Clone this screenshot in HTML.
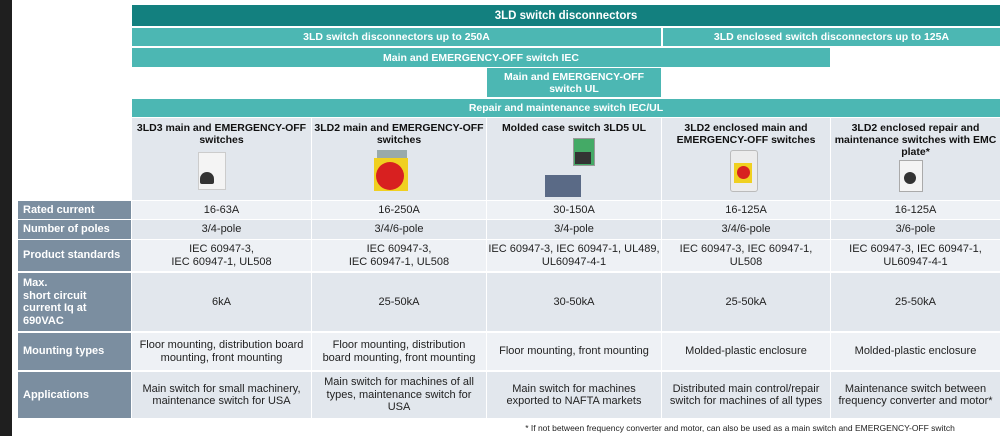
<!DOCTYPE html>
<html><head><meta charset="utf-8"><style>
*{margin:0;padding:0;box-sizing:border-box}
body{width:1000px;height:436px;background:#fff;position:relative;overflow:hidden;font-family:"Liberation Sans",Arial,sans-serif}
.a{position:absolute;display:flex;align-items:center;justify-content:center;text-align:center}
.h{color:#fff;font-weight:bold;font-size:10.5px;line-height:12px}
.t1{background:#13807f}
.t2{background:#4cb7b3}
.l{color:#fff;font-weight:bold;font-size:11px;background:#7b8ea0;justify-content:flex-start;text-align:left;padding-left:5px;line-height:12.5px}
.c{font-size:11px;color:#222;line-height:12.5px}
.g{background:#e2e7ed}
.w{background:#eef1f5}
.p{font-weight:bold;font-size:10.5px;color:#111;align-items:flex-start;padding-top:4px;line-height:12px;background:#e2e7ed}
</style></head><body>
<div style="position:absolute;left:0;top:0;width:12px;height:436px;background:#1f1f1f"></div>

<div class="a h t1" style="left:132px;top:5px;width:868px;height:21px;font-size:11.5px">3LD switch disconnectors</div>
<div class="a h t2" style="left:132px;top:28px;width:529px;height:18px">3LD switch disconnectors up to 250A</div>
<div class="a h t2" style="left:663px;top:28px;width:337px;height:18px">3LD enclosed switch disconnectors up to 125A</div>
<div class="a h t2" style="left:132px;top:48px;width:698px;height:19px">Main and EMERGENCY-OFF switch IEC</div>
<div class="a h t2" style="left:487px;top:68px;width:174px;height:29px">Main and EMERGENCY-OFF<br>switch UL</div>
<div class="a h t2" style="left:132px;top:99px;width:868px;height:18px">Repair and maintenance switch IEC/UL</div>

<div class="a p" style="left:132px;top:118px;width:179px;height:82px">3LD3 main and EMERGENCY-OFF<br>switches</div>
<div class="a p" style="left:312px;top:118px;width:174px;height:82px">3LD2 main and EMERGENCY-OFF<br>switches</div>
<div class="a p" style="left:487px;top:118px;width:174px;height:82px">Molded case switch 3LD5 UL</div>
<div class="a p" style="left:662px;top:118px;width:168px;height:82px">3LD2 enclosed main and<br>EMERGENCY-OFF switches</div>
<div class="a p" style="left:831px;top:118px;width:169px;height:82px">3LD2 enclosed repair and<br>maintenance switches with EMC<br>plate*</div>

<div style="position:absolute;left:198px;top:152px;width:28px;height:38px;background:#f4f4f4;border:1px solid #ccc"></div>
<div style="position:absolute;left:200px;top:172px;width:14px;height:12px;background:#333;border-radius:7px 7px 2px 2px"></div>
<div style="position:absolute;left:377px;top:150px;width:30px;height:10px;background:#9aa"></div>
<div style="position:absolute;left:374px;top:158px;width:34px;height:33px;background:#f0d020"></div>
<div style="position:absolute;left:376px;top:162px;width:28px;height:28px;background:#d82020;border-radius:50%"></div>
<div style="position:absolute;left:573px;top:138px;width:22px;height:28px;background:#4a6;border:1px solid #999"></div>
<div style="position:absolute;left:575px;top:152px;width:16px;height:12px;background:#333"></div>
<div style="position:absolute;left:545px;top:175px;width:36px;height:22px;background:#5a6a86"></div>
<div style="position:absolute;left:730px;top:150px;width:28px;height:42px;background:#ececec;border:1px solid #bbb;border-radius:3px"></div>
<div style="position:absolute;left:734px;top:163px;width:18px;height:20px;background:#f0d020"></div>
<div style="position:absolute;left:737px;top:166px;width:13px;height:13px;background:#d82020;border-radius:50%"></div>
<div style="position:absolute;left:899px;top:160px;width:24px;height:32px;background:#f4f4f4;border:1px solid #aaa"></div>
<div style="position:absolute;left:904px;top:172px;width:12px;height:12px;background:#333;border-radius:50%"></div>

<div class="a l" style="left:18px;top:201px;width:113px;height:18px">Rated current</div>
<div class="a c w" style="left:132px;top:201px;width:179px;height:18px">16-63A</div>
<div class="a c w" style="left:312px;top:201px;width:174px;height:18px">16-250A</div>
<div class="a c w" style="left:487px;top:201px;width:174px;height:18px">30-150A</div>
<div class="a c w" style="left:662px;top:201px;width:168px;height:18px">16-125A</div>
<div class="a c w" style="left:831px;top:201px;width:169px;height:18px">16-125A</div>

<div class="a l" style="left:18px;top:220px;width:113px;height:19px">Number of poles</div>
<div class="a c g" style="left:132px;top:220px;width:179px;height:19px">3/4-pole</div>
<div class="a c g" style="left:312px;top:220px;width:174px;height:19px">3/4/6-pole</div>
<div class="a c g" style="left:487px;top:220px;width:174px;height:19px">3/4-pole</div>
<div class="a c g" style="left:662px;top:220px;width:168px;height:19px">3/4/6-pole</div>
<div class="a c g" style="left:831px;top:220px;width:169px;height:19px">3/6-pole</div>

<div class="a l" style="left:18px;top:240px;width:113px;height:31px">Product standards</div>
<div class="a c w" style="left:132px;top:240px;width:179px;height:31px">IEC 60947-3,<br>IEC 60947-1, UL508</div>
<div class="a c w" style="left:312px;top:240px;width:174px;height:31px">IEC 60947-3,<br>IEC 60947-1, UL508</div>
<div class="a c w" style="left:487px;top:240px;width:174px;height:31px">IEC 60947-3, IEC 60947-1, UL489,<br>UL60947-4-1</div>
<div class="a c w" style="left:662px;top:240px;width:168px;height:31px">IEC 60947-3, IEC 60947-1,<br>UL508</div>
<div class="a c w" style="left:831px;top:240px;width:169px;height:31px">IEC 60947-3, IEC 60947-1,<br>UL60947-4-1</div>

<div class="a l" style="left:18px;top:273px;width:113px;height:58px">Max.<br>short circuit<br>current Iq at<br>690VAC</div>
<div class="a c g" style="left:132px;top:273px;width:179px;height:58px">6kA</div>
<div class="a c g" style="left:312px;top:273px;width:174px;height:58px">25-50kA</div>
<div class="a c g" style="left:487px;top:273px;width:174px;height:58px">30-50kA</div>
<div class="a c g" style="left:662px;top:273px;width:168px;height:58px">25-50kA</div>
<div class="a c g" style="left:831px;top:273px;width:169px;height:58px">25-50kA</div>

<div class="a l" style="left:18px;top:333px;width:113px;height:37px">Mounting types</div>
<div class="a c w" style="left:132px;top:333px;width:179px;height:37px">Floor mounting, distribution board<br>mounting, front mounting</div>
<div class="a c w" style="left:312px;top:333px;width:174px;height:37px">Floor mounting, distribution<br>board mounting, front mounting</div>
<div class="a c w" style="left:487px;top:333px;width:174px;height:37px">Floor mounting, front mounting</div>
<div class="a c w" style="left:662px;top:333px;width:168px;height:37px">Molded-plastic enclosure</div>
<div class="a c w" style="left:831px;top:333px;width:169px;height:37px">Molded-plastic enclosure</div>

<div class="a l" style="left:18px;top:372px;width:113px;height:46px">Applications</div>
<div class="a c g" style="left:132px;top:372px;width:179px;height:46px">Main switch for small machinery,<br>maintenance switch for USA</div>
<div class="a c g" style="left:312px;top:372px;width:174px;height:46px">Main switch for machines of all<br>types, maintenance switch for<br>USA</div>
<div class="a c g" style="left:487px;top:372px;width:174px;height:46px">Main switch for machines<br>exported to NAFTA markets</div>
<div class="a c g" style="left:662px;top:372px;width:168px;height:46px">Distributed main control/repair<br>switch for machines of all types</div>
<div class="a c g" style="left:831px;top:372px;width:169px;height:46px">Maintenance switch between<br>frequency converter and motor*</div>

<div class="a" style="left:490px;top:421px;width:500px;height:14px;font-size:8.5px;color:#222">* If not between frequency converter and motor, can also be used as a main switch and EMERGENCY-OFF switch</div>
</body></html>
